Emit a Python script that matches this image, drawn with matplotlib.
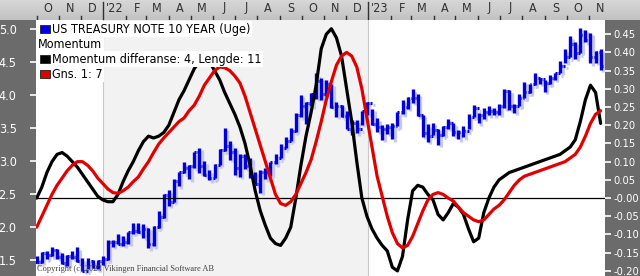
import numpy as np
import pandas as pd
import matplotlib
matplotlib.use("Agg")
import matplotlib.pyplot as plt
import matplotlib.dates as mdates
from matplotlib.transforms import offset_copy
from matplotlib.patches import Rectangle

# weekly bars, week ending fridays
first_week = "2021-10-01"

yield_high = [1.56, 1.62, 1.63, 1.70, 1.66, 1.61, 1.58, 1.63, 1.69, 1.53, 1.53, 1.50, 1.50, 1.56,
              1.80, 1.80, 1.90, 1.87, 1.93, 2.06, 2.06, 2.05, 1.99, 2.01, 2.24, 2.50, 2.56, 2.73, 2.83,
              2.98, 2.94, 3.13, 3.20, 3.00, 2.86, 2.96, 3.18, 3.50, 3.30, 3.20, 3.10, 3.10, 3.05, 2.84,
              2.87, 2.90, 2.99, 3.11, 3.26, 3.36, 3.50, 3.72, 4.00, 3.90, 4.03, 4.33, 4.26, 4.23, 4.17,
              3.89, 3.85, 3.76, 3.62, 3.62, 3.75, 3.90,
              3.79, 3.65, 3.55, 3.56, 3.58, 3.74, 3.93, 3.97, 4.09, 4.02, 3.70, 3.56, 3.58, 3.48, 3.53,
              3.64, 3.57, 3.47, 3.53, 3.71, 3.85, 3.72, 3.80, 3.84, 3.81, 3.86, 4.09, 4.07, 3.86, 4.02,
              4.20, 4.17, 4.33, 4.26, 4.22, 4.30, 4.34, 4.51, 4.69, 4.89, 4.80, 5.02, 4.99, 4.94, 4.67, 4.69]
yield_low = [1.45, 1.46, 1.51, 1.56, 1.52, 1.44, 1.41, 1.52, 1.47, 1.34, 1.36, 1.38, 1.36, 1.43,
             1.50, 1.70, 1.74, 1.72, 1.75, 1.90, 1.91, 1.84, 1.68, 1.71, 1.99, 2.13, 2.32, 2.38, 2.62,
             2.82, 2.72, 2.89, 2.82, 2.78, 2.71, 2.74, 2.94, 3.15, 3.02, 2.79, 2.76, 2.88, 2.75, 2.65,
             2.52, 2.72, 2.78, 2.95, 3.05, 3.20, 3.31, 3.44, 3.66, 3.56, 3.83, 3.94, 3.92, 3.99, 3.81,
             3.67, 3.67, 3.49, 3.40, 3.42, 3.55, 3.70,
             3.55, 3.44, 3.32, 3.41, 3.33, 3.53, 3.71, 3.79, 3.88, 3.68, 3.37, 3.29, 3.39, 3.25, 3.38,
             3.49, 3.38, 3.33, 3.36, 3.49, 3.66, 3.57, 3.64, 3.69, 3.69, 3.70, 3.80, 3.78, 3.73, 3.83,
             3.95, 4.03, 4.15, 4.17, 4.05, 4.16, 4.23, 4.34, 4.49, 4.58, 4.55, 4.64, 4.80, 4.48, 4.49, 4.38]
yield_close = [1.47, 1.61, 1.57, 1.65, 1.55, 1.45, 1.56, 1.54, 1.48, 1.34, 1.48, 1.40, 1.49, 1.51,
               1.77, 1.78, 1.75, 1.78, 1.92, 1.94, 1.93, 1.97, 1.74, 2.00, 2.15, 2.48, 2.38, 2.70, 2.83,
               2.90, 2.93, 3.13, 2.92, 2.79, 2.74, 2.94, 3.16, 3.23, 3.13, 2.89, 3.08, 2.93, 2.77, 2.65,
               2.83, 2.84, 2.98, 3.04, 3.19, 3.31, 3.45, 3.69, 3.83, 3.88, 4.01, 4.21, 4.01, 4.16, 3.82,
               3.83, 3.68, 3.49, 3.58, 3.48, 3.75, 3.88,
               3.56, 3.51, 3.48, 3.51, 3.53, 3.74, 3.82, 3.95, 3.96, 3.70, 3.43, 3.38, 3.47, 3.39, 3.52,
               3.57, 3.44, 3.44, 3.46, 3.67, 3.80, 3.69, 3.74, 3.76, 3.74, 3.84, 4.06, 3.83, 3.84, 3.96,
               4.04, 4.16, 4.25, 4.24, 4.18, 4.26, 4.33, 4.44, 4.57, 4.78, 4.63, 4.91, 4.84, 4.57, 4.65, 4.44]

momentum = [0.00, 0.03, 0.07, 0.10, 0.12, 0.125, 0.115, 0.10, 0.085, 0.065,
            0.045, 0.025, 0.005, -0.005, -0.01, -0.01, 0.01, 0.045, 0.075, 0.10,
            0.13, 0.155, 0.17, 0.165, 0.17, 0.18, 0.20, 0.235, 0.27, 0.295,
            0.325, 0.355, 0.375, 0.385, 0.375, 0.35, 0.325, 0.29, 0.26, 0.23,
            0.195, 0.15, 0.09, 0.02, -0.035, -0.075, -0.11, -0.125, -0.13, -0.11,
            -0.08, 0.0, 0.09, 0.17, 0.235, 0.31, 0.41, 0.45, 0.465, 0.44,
            0.39, 0.30, 0.21, 0.10, 0.0, -0.05, -0.085, -0.11, -0.13, -0.145,
            -0.19, -0.20, -0.16, -0.06, 0.02, 0.035, 0.03, 0.01, -0.005, -0.045,
            -0.06, -0.04, -0.015, -0.025, -0.045, -0.085, -0.12, -0.11, -0.04, 0.0,
            0.03, 0.05, 0.06, 0.07, 0.075, 0.08, 0.085, 0.09, 0.095, 0.10,
            0.105, 0.11, 0.115, 0.12, 0.13, 0.14, 0.16, 0.21, 0.27, 0.31,
            0.29, 0.205]
momentum_avg = [-0.08, -0.05, -0.02, 0.01, 0.035, 0.055, 0.075, 0.09, 0.10, 0.10,
                0.09, 0.075, 0.055, 0.04, 0.025, 0.015, 0.013, 0.02, 0.03, 0.045,
                0.058, 0.08, 0.10, 0.125, 0.148, 0.165, 0.18, 0.195, 0.21, 0.22,
                0.24, 0.255, 0.28, 0.31, 0.33, 0.35, 0.36, 0.358, 0.35, 0.335,
                0.316, 0.28, 0.235, 0.19, 0.145, 0.10, 0.055, 0.01, -0.015, -0.02,
                -0.01, 0.01, 0.04, 0.07, 0.105, 0.155, 0.21, 0.27, 0.32, 0.365,
                0.39, 0.40, 0.39, 0.36, 0.30, 0.22, 0.14, 0.06, 0.005, -0.05,
                -0.095, -0.125, -0.137, -0.13, -0.105, -0.07, -0.035, -0.005, 0.01, 0.015,
                0.01, 0.0, -0.008, -0.025, -0.04, -0.05, -0.06, -0.065, -0.06, -0.045,
                -0.03, -0.02, -0.005, 0.015, 0.035, 0.05, 0.06, 0.065, 0.07, 0.075,
                0.08, 0.085, 0.09, 0.095, 0.10, 0.11, 0.12, 0.14, 0.17, 0.205,
                0.23, 0.24]

left_ticks = [1.5, 2.0, 2.5, 3.0, 3.5, 4.0, 4.5, 5.0]
right_ticks = [-0.20, -0.15, -0.10, -0.05, 0.00, 0.05, 0.10, 0.15, 0.20, 0.25, 0.30, 0.35, 0.40, 0.45]
month_letters = "JFMAMJJASOND"

FONT = dict(family=["DejaVu Sans"], stretch="condensed")

weeks = pd.date_range(first_week, periods=len(yield_close), freq="W-FRI")
x = mdates.date2num(weeks)
x0, x1 = x[0] - 1, x[-1] + 6

W, H = 640, 276
fig = plt.figure(figsize=(W / 100, H / 100), dpi=100, facecolor="#6b6b6b")

def fx(px):
    return px / W

def fy(py):
    return 1 - py / H

# main price panel
ax = fig.add_axes([fx(36), 0, fx(569), (H - 20) / H])
ax.set_xlim(x0, x1)
ax.set_ylim(1.258, 5.136)
ax.set_facecolor("white")
for s in ax.spines.values():
    s.set_visible(False)
ax.set_xticks([])
ax.set_yticks(left_ticks)
ax.set_yticklabels([f"{v:.1f}" for v in left_ticks], fontsize=9, **FONT)
ax.tick_params(axis="y", colors="white", length=4, width=1.2, pad=10)

y22 = mdates.date2num(pd.Timestamp("2022-01-01"))
y23 = mdates.date2num(pd.Timestamp("2023-01-01"))
ax.axvspan(y22, y23, color="#f2f2f2", zorder=0, lw=0)
for yy in (y22, y23):
    ax.axvline(yy, color="#c8c8c8", lw=0.8, zorder=0.5)

# bars with a soft shadow
tick = 2.6
shadow = offset_copy(ax.transData, fig=fig, x=2.5, y=-2.5, units="dots")
opens = [yield_close[0]] + yield_close[:-1]
for trans, col, z in ((shadow, "#c9cbe6", 1), (ax.transData, "#0000dd", 2)):
    ax.vlines(x, yield_low, yield_high, colors=col, lw=2.4, transform=trans, zorder=z)
    ax.hlines(yield_close, x, x + tick, colors=col, lw=2.2, transform=trans, zorder=z)
    ax.hlines(opens, x - tick, x, colors=col, lw=2.2, transform=trans, zorder=z)

# momentum panel
ax2 = ax.twinx()
ax2.set_ylim(-0.214, 0.489)
for s in ax2.spines.values():
    s.set_visible(False)
ax2.set_yticks(right_ticks)
ax2.set_yticklabels(["-0.00" if v == 0 else f"{v:.2f}" for v in right_ticks], fontsize=8, **FONT)
ax2.tick_params(axis="y", colors="white", length=4, width=1.2, pad=2)
ax2.axhline(0, color="black", lw=0.9, zorder=2)
ax2.plot(x, momentum, color="black", lw=2.3, zorder=3, solid_capstyle="round")
ax2.plot(x, momentum_avg, color="#e00000", lw=2.3, zorder=4, solid_capstyle="round")

# header strip with months
top = fig.add_axes([0, (H - 20) / H, 1, 20 / H])
ppu = 569 / (x1 - x0)
top.set_xlim(x0 - 36 / ppu, x1 + 35 / ppu)
top.set_ylim(0, 1)
grad = np.linspace(0.84, 0.76, 20).reshape(-1, 1)
top.imshow(grad, cmap="gray", vmin=0, vmax=1, aspect="auto",
           extent=(x0 - 36 / ppu, x1 + 35 / ppu, 0, 1), origin="upper")
top.axis("off")
months = pd.date_range("2021-10-01", "2023-11-01", freq="MS")
for m in months:
    mx = mdates.date2num(m)
    mid = mdates.date2num(m + pd.Timedelta(days=15))
    label = "'" + str(m.year)[2:] if m.month == 1 else month_letters[m.month - 1]
    top.text(mid, 0.6, label, ha="center", va="center", fontsize=9, color="#303030", **FONT)
    if m.month == 1:
        top.plot([mx, mx], [0, 0.92], color="#303030", lw=1)
    elif mx > x0:
        top.plot([mx, mx], [0, 0.22], color="#303030", lw=1)

# legend rows
rows = [("US TREASURY NOTE 10 YEAR (Uge)", "#0000dd", 29),
        ("Momentum", None, 44),
        ("Momentum differanse: 4, Lengde: 11", "black", 59),
        ("Gns. 1: 7", "#e00000", 74)]
for label, col, py in rows:
    tx = 38
    if col is not None:
        fig.patches.append(Rectangle((fx(40), fy(py + 4)), fx(10), 8 / H, transform=fig.transFigure,
                                     facecolor=col, edgecolor="#202020", lw=0.6, zorder=10))
        tx = 52
    fig.text(fx(tx), fy(py), label, fontsize=9, va="center", ha="left", zorder=11,
             bbox=dict(facecolor="white", edgecolor="none", pad=1.0), **FONT)

fig.text(fx(37), fy(269), "Copyright (c) 2023 Vikingen Financial Software AB", fontsize=6.0,
         family=["Liberation Serif", "DejaVu Serif"], color="#404040", va="center", ha="left")

fig.savefig("out.png", dpi=100, facecolor=fig.get_facecolor())
